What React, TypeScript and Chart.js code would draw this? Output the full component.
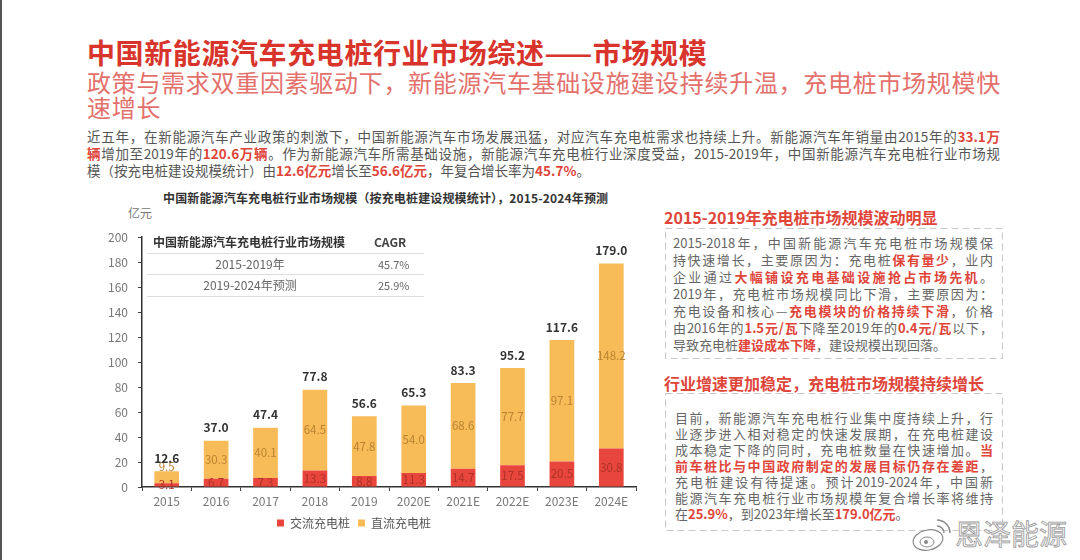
import React, { useEffect, useRef } from 'react';
import { Chart, registerables } from 'chart.js';

Chart.register(...registerables);

// ---------- data ----------
const categories = ['2015', '2016', '2017', '2018', '2019', '2020E', '2021E', '2022E', '2023E', '2024E'];
const acValues = [3.1, 6.7, 7.3, 13.3, 8.8, 11.3, 14.7, 17.5, 20.5, 30.8];
const dcValues = [9.5, 30.3, 40.1, 64.5, 47.8, 54.0, 68.6, 77.7, 97.1, 148.2];
const seriesNames = ['交流充电桩', '直流充电桩'];
const yMin = 0;
const yMax = 200;
const yStep = 20;
const cagrHeader = ['中国新能源汽车充电桩行业市场规模', 'CAGR'];
const cagrPeriods = ['2015-2019年', '2019-2024年预测'];
const cagrValues = ['45.7%', '25.9%'];

const FF = '"Noto Sans CJK SC", "Noto Sans", sans-serif';
const RED = '#e8463c';
const ORANGE = '#f7bb58';
const HL = '#e0453a';

type Seg = string | [string];

const paraLines: Seg[][] = [
  ['近五年，在新能源汽车产业政策的刺激下，中国新能源汽车市场发展迅猛，对应汽车充电桩需求也持续上升。新能源汽车年销量由2015年的', ['33.1万']],
  [['辆'], '增加至2019年的', ['120.6万辆'], '。作为新能源汽车所需基础设施，新能源汽车充电桩行业深度受益，2015-2019年，中国新能源汽车充电桩行业市场规'],
  ['模（按充电桩建设规模统计）由', ['12.6亿元'], '增长至', ['56.6亿元'], '，年复合增长率为', ['45.7%'], '。'],
];

const box1Lines: Seg[][] = [
  ['2015-2018年，中国新能源汽车充电桩市场规模保'],
  ['持快速增长，主要原因为：充电桩', ['保有量少'], '，业内'],
  ['企业通过', ['大幅铺设充电基础设施抢占市场先机'], '。'],
  ['2019年，充电桩市场规模同比下滑，主要原因为：'],
  ['充电设备和核心—', ['充电模块的价格持续下滑'], '，价格'],
  ['由2016年的', ['1.5元/瓦'], '下降至2019年的', ['0.4元/瓦'], '以下，'],
  ['导致充电桩', ['建设成本下降'], '，建设规模出现回落。'],
];

const box2Lines: Seg[][] = [
  ['目前，新能源汽车充电桩行业集中度持续上升，行'],
  ['业逐步进入相对稳定的快速发展期，在充电桩建设'],
  ['成本稳定下降的同时，充电桩数量在快速增加。', ['当']],
  [['前车桩比与中国政府制定的发展目标仍存在差距'], '，'],
  ['充电桩建设有待提速。预计2019-2024年，中国新'],
  ['能源汽车充电桩行业市场规模年复合增长率将维持'],
  ['在', ['25.9%'], '，到2023年增长至', ['179.0亿元'], '。'],
];

function renderSegs(segs: Seg[]) {
  return segs.map((s, i) =>
    typeof s === 'string' ? (
      <span key={i}>{s}</span>
    ) : (
      <span key={i} style={{ color: HL, fontWeight: 700 }}>
        {s[0]}
      </span>
    )
  );
}

function TextBlock(props: {
  lines: Seg[][];
  left: number;
  top: number;
  width: number;
  lineHeight: number;
  fontSize: number;
  color: string;
}) {
  const { lines, left, top, width, lineHeight, fontSize, color } = props;
  return (
    <div style={{ position: 'absolute', left, top, width, fontSize, lineHeight: lineHeight + 'px', color, fontFamily: FF }}>
      {lines.map((ln, i) => (
        <div
          key={i}
          style={{
            whiteSpace: 'nowrap',
            textAlign: 'justify',
            textAlignLast: i === lines.length - 1 ? 'left' : 'justify',
            height: lineHeight,
          } as React.CSSProperties}
        >
          {renderSegs(ln)}
        </div>
      ))}
    </div>
  );
}

const labelPlugin = {
  id: 'barLabels',
  afterLayout(chart: any) {
    const lg = chart.legend;
    if (lg) {
      lg.left -= 14;
      lg.right -= 14;
    }
  },
  afterDatasetsDraw(chart: any) {
    const ctx = chart.ctx;
    ctx.save();
    ctx.textAlign = 'center';
    ctx.textBaseline = 'middle';
    ctx.font = '11.5px ' + FF;
    chart.data.datasets.forEach((ds: any, di: number) => {
      const meta = chart.getDatasetMeta(di);
      meta.data.forEach((el: any, i: number) => {
        const p = el.getProps(['x', 'y', 'base'], true);
        let cy = (p.y + p.base) / 2;
        if (di === 1) cy = Math.min(cy, p.base - 17);
        ctx.fillStyle = di === 0 ? '#ad3128' : '#b98332';
        ctx.fillText(Number(ds.data[i]).toFixed(1), p.x, cy);
      });
    });
    const topMeta = chart.getDatasetMeta(1);
    ctx.font = 'bold 12px ' + FF;
    ctx.fillStyle = '#333';
    ctx.textBaseline = 'bottom';
    topMeta.data.forEach((el: any, i: number) => {
      const p = el.getProps(['x', 'y'], true);
      const total = acValues[i] + dcValues[i];
      ctx.fillText(total.toFixed(1), p.x, p.y - 7);
    });
    ctx.restore();
  },
};

function BarChart() {
  const ref = useRef<HTMLCanvasElement | null>(null);
  useEffect(() => {
    if (!ref.current) return;
    const chart = new Chart(ref.current, {
      type: 'bar',
      data: {
        labels: categories,
        datasets: [
          { label: seriesNames[0], data: acValues, backgroundColor: RED, borderWidth: 0, barPercentage: 0.5, categoryPercentage: 1.0 },
          { label: seriesNames[1], data: dcValues, backgroundColor: ORANGE, borderWidth: 0, barPercentage: 0.5, categoryPercentage: 1.0 },
        ],
      },
      options: {
        animation: false,
        responsive: false,
        devicePixelRatio: 1,
        layout: { padding: { top: 11, right: 24, bottom: 0, left: 0 } },
        plugins: {
          legend: {
            position: 'bottom',
            labels: { boxWidth: 7, boxHeight: 7, padding: 8, color: '#555', font: { size: 12, family: FF } },
          },
          tooltip: { enabled: false },
          title: { display: false },
        },
        scales: {
          x: {
            stacked: true,
            grid: { display: true, drawOnChartArea: false, drawTicks: true, tickLength: 4, color: '#444', offset: true },
            border: { display: true, color: '#333', width: 1.5 },
            ticks: { color: '#777', font: { size: 12, family: FF }, padding: 3 },
            afterFit: (s: any) => {
              s.height = 22;
            },
          },
          y: {
            stacked: true,
            min: yMin,
            max: yMax,
            ticks: { stepSize: yStep, color: '#777', font: { size: 12, family: FF }, padding: 10 },
            grid: { drawOnChartArea: false, drawTicks: true, tickLength: 4, color: '#444' },
            border: { display: true, color: '#333', width: 1.5 },
            afterFit: (s: any) => {
              s.width = 42;
            },
          },
        },
      } as any,
      plugins: [labelPlugin],
    });
    return () => chart.destroy();
  }, []);
  return <canvas ref={ref} width={560} height={319} style={{ position: 'absolute', left: 100, top: 220, width: 560, height: 319 }} />;
}

function DashedBox(props: { left: number; top: number; width: number; height: number }) {
  const { left, top, width, height } = props;
  return (
    <svg style={{ position: 'absolute', left, top }} width={width} height={height}>
      <rect x={0.5} y={0.5} width={width - 1} height={height - 1} fill="none" stroke="#c9c9c9" strokeWidth={1.2} strokeDasharray="7 4" />
    </svg>
  );
}

export default function App() {
  return (
    <div
      style={{
        position: 'fixed',
        left: 0,
        top: 0,
        width: 1080,
        height: 560,
        overflow: 'hidden',
        background: '#fff',
        fontFamily: FF,
      }}
    >
      <div style={{ position: 'absolute', left: 0, top: 0, width: 2, height: 560, background: '#555' }} />

      <div style={{ position: 'absolute', left: 87, top: 36, fontSize: 28, lineHeight: '32px', fontWeight: 700, color: '#d8342c', whiteSpace: 'nowrap', letterSpacing: 0.6 }}>
        中国新能源汽车充电桩行业市场综述——市场规模
      </div>
      <div style={{ position: 'absolute', left: 87, top: 69, width: 930, fontSize: 24, lineHeight: '25px', color: '#e4706c', letterSpacing: 0.7 }}>
        <div style={{ whiteSpace: 'nowrap' }}>政策与需求双重因素驱动下，新能源汽车基础设施建设持续升温，充电桩市场规模快</div>
        <div style={{ whiteSpace: 'nowrap' }}>速增长</div>
      </div>

      <TextBlock lines={paraLines} left={87} top={128} width={913} lineHeight={17} fontSize={13.5} color="#555" />

      {/* chart title and unit */}
      <div style={{ position: 'absolute', left: 163, top: 190, fontSize: 12, lineHeight: '16px', fontWeight: 700, color: '#333', whiteSpace: 'nowrap', letterSpacing: 0.15 }}>
        中国新能源汽车充电桩行业市场规模（按充电桩建设规模统计），2015-2024年预测
      </div>
      <div style={{ position: 'absolute', left: 128, top: 205, fontSize: 12, lineHeight: '16px', color: '#777' }}>亿元</div>

      <BarChart />

      {/* CAGR table */}
      <div style={{ position: 'absolute', left: 153, top: 234, fontSize: 12, lineHeight: '16px', fontWeight: 700, color: '#333', whiteSpace: 'nowrap' }}>
        {cagrHeader[0]}
      </div>
      <div style={{ position: 'absolute', left: 374, top: 234, fontSize: 12, lineHeight: '16px', fontWeight: 700, color: '#444' }}>{cagrHeader[1]}</div>
      {[253, 274, 296].map((y, i) => (
        <div key={i} style={{ position: 'absolute', left: 147, top: y, width: 277, height: 1, background: '#dcdcdc' }} />
      ))}
      {cagrPeriods.map((p, i) => (
        <div key={'p' + i} style={{ position: 'absolute', left: 160, width: 180, textAlign: 'center', top: 256 + i * 21, fontSize: 12, lineHeight: '16px', color: '#666' }}>
          {p}
        </div>
      ))}
      {cagrValues.map((v, i) => (
        <div key={'v' + i} style={{ position: 'absolute', left: 378, top: 256 + i * 21, fontSize: 11, lineHeight: '16px', color: '#666' }}>
          {v}
        </div>
      ))}

      {/* right panel */}
      <div style={{ position: 'absolute', left: 664, top: 207, fontSize: 16, lineHeight: '20px', fontWeight: 700, color: HL, whiteSpace: 'nowrap' }}>
        2015-2019年充电桩市场规模波动明显
      </div>
      <DashedBox left={665} top={228} width={338} height={131} />
      <TextBlock lines={box1Lines} left={673} top={233.5} width={320} lineHeight={17} fontSize={13} color="#666" />

      <div style={{ position: 'absolute', left: 664, top: 373, fontSize: 16, lineHeight: '20px', fontWeight: 700, color: HL, whiteSpace: 'nowrap' }}>
        行业增速更加稳定，充电桩市场规模持续增长
      </div>
      <DashedBox left={665} top={393} width={338} height={138} />
      <TextBlock lines={box2Lines} left={675} top={410} width={318} lineHeight={16} fontSize={13} color="#666" />

      {/* watermark */}
      <svg style={{ position: 'absolute', left: 910, top: 517 }} width={44} height={38}>
        <ellipse cx={18} cy={23} rx={15} ry={10} fill="#fff" stroke="#8a8a8a" strokeWidth={1.2} transform="rotate(-12 18 23)" />
        <ellipse cx={17} cy={25} rx={7} ry={5} fill="none" stroke="#8a8a8a" strokeWidth={1} />
        <circle cx={16} cy={25} r={2} fill="#8a8a8a" />
        <path d="M27 9 a7 7 0 0 1 7 7" fill="none" stroke="#8a8a8a" strokeWidth={1.5} />
        <path d="M27 3 a13 13 0 0 1 13 13" fill="none" stroke="#8a8a8a" strokeWidth={1.5} />
      </svg>
      <div
        style={{
          position: 'absolute',
          left: 955,
          top: 516,
          fontSize: 28,
          lineHeight: '34px',
          color: '#f6f6f6',
          WebkitTextStroke: '0.8px #999',
          whiteSpace: 'nowrap',
        } as React.CSSProperties}
      >
        恩泽能源
      </div>
    </div>
  );
}
